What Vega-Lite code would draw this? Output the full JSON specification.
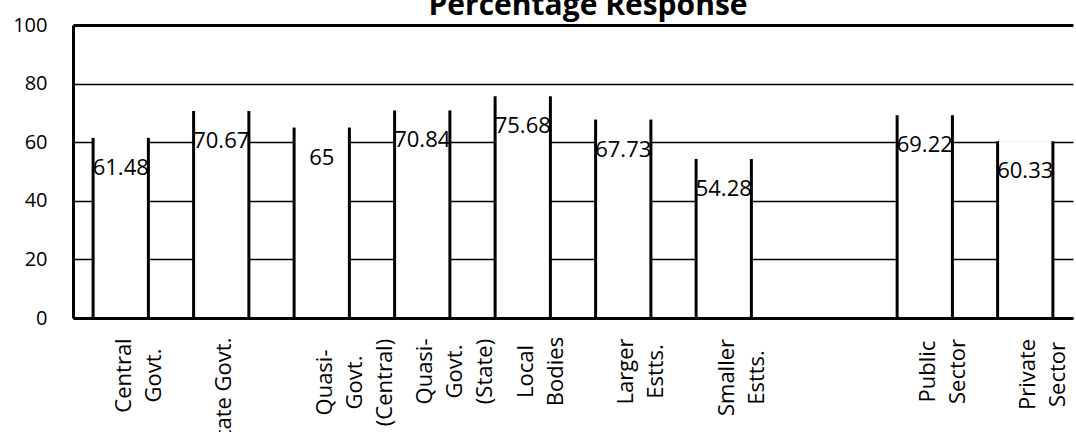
{
  "$schema": "https://vega.github.io/schema/vega-lite/v6.json",
  "autosize": {"type": "none"},
  "width": 1000,
  "height": 293,
  "padding": {"left": 73, "top": 25, "right": 3, "bottom": 114},
  "background": "white",
  "title": {
    "text": "Percentage Response",
    "font": "Open Sans",
    "fontSize": 30,
    "fontWeight": "bold",
    "color": "black",
    "anchor": "middle",
    "dx": 15,
    "dy": 6,
    "offset": 0
  },
  "config": {"view": {"stroke": null}, "font": "Open Sans"},
  "data": {
    "values": [
      {"category": "Central Govt.", "value": 61.48},
      {"category": "State Govt.", "value": 70.67},
      {"category": "Quasi-Govt. (Central)", "value": 65},
      {"category": "Quasi-Govt. (State)", "value": 70.84},
      {"category": "Local Bodies", "value": 75.68},
      {"category": "Larger Estts.", "value": 67.73},
      {"category": "Smaller Estts.", "value": 54.28},
      {"category": "Public Sector", "value": 69.22},
      {"category": "Private Sector", "value": 60.33}
    ]
  },
  "layer": [
    {
      "mark": {"type": "bar", "fill": "white", "strokeWidth": 0},
      "encoding": {
        "x": {
          "field": "category",
          "type": "nominal",
          "sort": null,
          "scale": {
            "domain": ["Central Govt.", "State Govt.", "Quasi-Govt. (Central)", "Quasi-Govt. (State)", "Local Bodies", "Larger Estts.", "Smaller Estts.", " ", "Public Sector", "Private Sector"],
            "paddingInner": 0.45,
            "paddingOuter": 0.2
          },
          "axis": {
            "title": null,
            "zindex": 1,
            "domainColor": "black",
            "domainWidth": 3,
            "ticks": false,
            "labelAngle": 270,
            "labelAlign": "center",
            "labelBaseline": "middle",
            "labelFont": "Open Sans",
            "labelFontSize": 22,
            "labelLineHeight": 30,
            "labelColor": "black",
            "labelOverlap": false,
            "labelLimit": 0,
            "labelOffset": 3,
            "labelPadding": {
              "condition": [
                {"test": "datum.value == 'State Govt.'", "value": 75},
                {"test": "datum.value == 'Quasi-Govt. (Central)'", "value": 64},
                {"test": "datum.value == 'Smaller Estts.'", "value": 59},
                {"test": "datum.value == 'Central Govt.'", "value": 57},
                {"test": "datum.value == 'Private Sector'", "value": 56}
              ],
              "value": 53
            },
            "labelExpr": "datum.value == 'State Govt.' ? datum.value : (datum.value == ' ' ? '' : split(replace(datum.value, '-', '- '), ' '))"
          }
        },
        "y": {
          "field": "value",
          "type": "quantitative",
          "scale": {"domain": [0, 100], "nice": false},
          "axis": {
            "title": null,
            "values": [0, 20, 40, 60, 80, 100],
            "grid": true,
            "gridColor": "black",
            "gridOpacity": 1,
            "gridWidth": {"condition": {"test": "datum.value == 100", "value": 3}, "value": 1.5},
            "domainColor": "black",
            "domainWidth": 3,
            "ticks": false,
            "labelFont": "Open Sans",
            "labelFontSize": 20,
            "labelColor": "black",
            "labelPadding": 26
          }
        }
      }
    },
    {
      "mark": {"type": "rule", "stroke": "black", "strokeWidth": 3},
      "encoding": {
        "x": {"field": "category", "type": "nominal", "bandPosition": 0},
        "y": {"field": "value", "type": "quantitative"},
        "y2": {"datum": 0}
      }
    },
    {
      "mark": {"type": "rule", "stroke": "black", "strokeWidth": 3},
      "encoding": {
        "x": {"field": "category", "type": "nominal", "bandPosition": 1},
        "y": {"field": "value", "type": "quantitative"},
        "y2": {"datum": 0}
      }
    },
    {
      "mark": {"type": "text", "baseline": "middle", "align": "center", "dy": 30, "fontSize": 22, "font": "Open Sans", "color": "black"},
      "encoding": {
        "x": {"field": "category", "type": "nominal"},
        "y": {"field": "value", "type": "quantitative"},
        "text": {"field": "value", "type": "quantitative"}
      }
    }
  ]
}
